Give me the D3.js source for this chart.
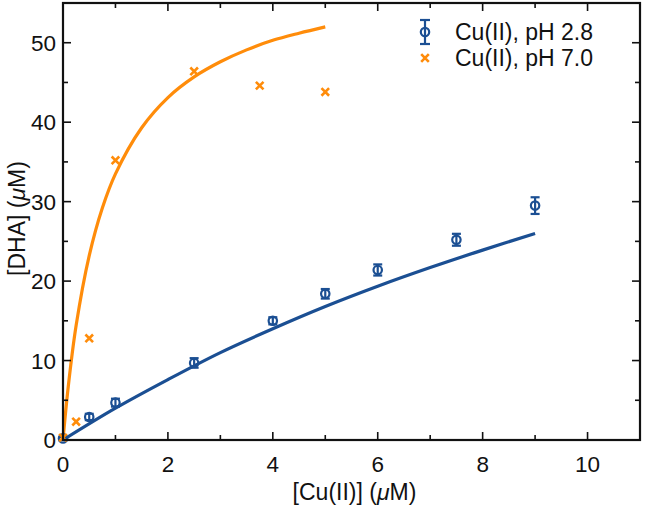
<!DOCTYPE html>
<html><head><meta charset="utf-8">
<script src="https://cdn.jsdelivr.net/npm/d3@7"></script>
<style>body{margin:0;background:#fff}svg{display:block}text{font-family:"Liberation Sans",Arial,Helvetica,sans-serif;fill:#111}</style>
</head><body><svg id="c" width="649" height="508"></svg>
<script>
// pH 2.8 data with error bars
const xAcid = [0, 0.5, 1, 2.5, 4, 5, 6, 7.5, 9];
const yAcid = [0.2, 2.9, 4.7, 9.7, 15.0, 18.4, 21.4, 25.2, 29.5];
const eAcid = [0.2, 0.4, 0.5, 0.6, 0.45, 0.6, 0.7, 0.75, 1.05];
// pH 7.0 data
const xNeut = [0, 0.25, 0.5, 1, 2.5, 3.75, 5];
const yNeut = [0.3, 2.3, 12.8, 35.2, 46.4, 44.6, 43.8];
// fit curves
const fitAcidX = [0, 1, 2, 3, 4, 5, 6, 7, 8, 9];
const fitAcidY = [0, 4.0, 7.6, 11.0, 14.0, 16.8, 19.35, 21.7, 23.9, 26.0];
const fitNeutX = [0, 0.1, 0.25, 0.5, 0.75, 1, 1.5, 2, 2.5, 3, 3.5, 4, 4.5, 5];
const fitNeutY = [0, 6.7, 14.4, 23.2, 29.2, 33.5, 39.3, 43.1, 45.7, 47.6, 49.1, 50.3, 51.2, 52.0];
const xTicks = [0, 2, 4, 6, 8, 10];
const yTicks = [0, 10, 20, 30, 40, 50];
const seriesNames = ["Cu(II), pH 2.8", "Cu(II), pH 7.0"];

const blue = "#1b4f93", orange = "#ff8c0a";
const svg = d3.select("#c");
const L = 63, R = 640, T = 3, B = 440;
const x = d3.scaleLinear().domain([0, 11]).range([L, R]);
const y = d3.scaleLinear().domain([0, 55]).range([B, T]);

const line = d3.line().x(d => x(d[0])).y(d => y(d[1])).curve(d3.curveCatmullRom);
svg.append("path").datum(d3.zip(fitAcidX, fitAcidY)).attr("d", line)
  .attr("fill", "none").attr("stroke", blue).attr("stroke-width", 3.2);
svg.append("path").datum(d3.zip(fitNeutX, fitNeutY)).attr("d", line)
  .attr("fill", "none").attr("stroke", orange).attr("stroke-width", 3.2);

// error bars + circles
const acid = d3.zip(xAcid, yAcid, eAcid);
const g1 = svg.append("g").attr("stroke", blue).attr("fill", "none").attr("stroke-width", 2.2);
acid.forEach(([a, b, e]) => {
  const cx = x(a), top = y(b + e), bot = y(b - e);
  g1.append("line").attr("x1", cx).attr("x2", cx).attr("y1", top).attr("y2", bot);
  g1.append("line").attr("x1", cx - 4.5).attr("x2", cx + 4.5).attr("y1", top).attr("y2", top);
  g1.append("line").attr("x1", cx - 4.5).attr("x2", cx + 4.5).attr("y1", bot).attr("y2", bot);
  g1.append("circle").attr("cx", cx).attr("cy", y(b)).attr("r", 4.2);
});
const xMark = (g, cx, cy) => {
  const s = 3.8;
  g.append("path").attr("d", `M${cx - s},${cy - s}L${cx + s},${cy + s}M${cx - s},${cy + s}L${cx + s},${cy - s}`);
};
const g2 = svg.append("g").attr("stroke", orange).attr("stroke-width", 2.6).attr("fill", "none");
d3.zip(xNeut, yNeut).forEach(([a, b]) => xMark(g2, x(a), y(b)));

// frame
svg.append("rect").attr("x", L).attr("y", T).attr("width", R - L).attr("height", B - T)
  .attr("fill", "none").attr("stroke", "#111").attr("stroke-width", 2.2);
const tk = svg.append("g").attr("stroke", "#111").attr("stroke-width", 1.6);
d3.range(0, 11.01, 1).forEach(v => {
  const len = v % 2 === 0 ? 8 : 5, px = x(v);
  tk.append("line").attr("x1", px).attr("x2", px).attr("y1", B).attr("y2", B - len);
  tk.append("line").attr("x1", px).attr("x2", px).attr("y1", T).attr("y2", T + len);
});
d3.range(0, 55.01, 5).forEach(v => {
  const len = v % 10 === 0 ? 8 : 5, py = y(v);
  tk.append("line").attr("x1", L).attr("x2", L + len).attr("y1", py).attr("y2", py);
  tk.append("line").attr("x1", R).attr("x2", R - len).attr("y1", py).attr("y2", py);
});
xTicks.forEach(v => svg.append("text").attr("x", x(v)).attr("y", B + 32)
  .attr("text-anchor", "middle").attr("font-size", 22.5).text(v));
yTicks.forEach(v => svg.append("text").attr("x", L - 7).attr("y", y(v) + 8)
  .attr("text-anchor", "end").attr("font-size", 22.5).text(v));

// axis titles
const xt = svg.append("text").attr("x", (L + R) / 2 + 3).attr("y", 500).attr("text-anchor", "middle").attr("font-size", 23);
xt.append("tspan").text("[Cu(II)] (");
xt.append("tspan").attr("font-style", "italic").text("μ");
xt.append("tspan").text("M)");
const yt = svg.append("text").attr("transform", `translate(25,${(T + B) / 2 - 3}) rotate(-90)`).attr("text-anchor", "middle").attr("font-size", 23);
yt.append("tspan").text("[DHA] (");
yt.append("tspan").attr("font-style", "italic").text("μ");
yt.append("tspan").text("M)");

// legend
const lx = 425, ly1 = 32, ly2 = 58;
const lg = svg.append("g").attr("stroke", blue).attr("stroke-width", 2.2).attr("fill", "none");
lg.append("line").attr("x1", lx).attr("x2", lx).attr("y1", ly1 - 12).attr("y2", ly1 + 12);
lg.append("line").attr("x1", lx - 5).attr("x2", lx + 5).attr("y1", ly1 - 12).attr("y2", ly1 - 12);
lg.append("line").attr("x1", lx - 5).attr("x2", lx + 5).attr("y1", ly1 + 12).attr("y2", ly1 + 12);
lg.append("circle").attr("cx", lx).attr("cy", ly1).attr("r", 4.2);
const lg2 = svg.append("g").attr("stroke", orange).attr("stroke-width", 2.6).attr("fill", "none");
xMark(lg2, lx, ly2);
svg.append("text").attr("x", 455).attr("y", ly1 + 8).attr("font-size", 23).text(seriesNames[0]);
svg.append("text").attr("x", 455).attr("y", ly2 + 8).attr("font-size", 23).text(seriesNames[1]);
</script></body></html>
